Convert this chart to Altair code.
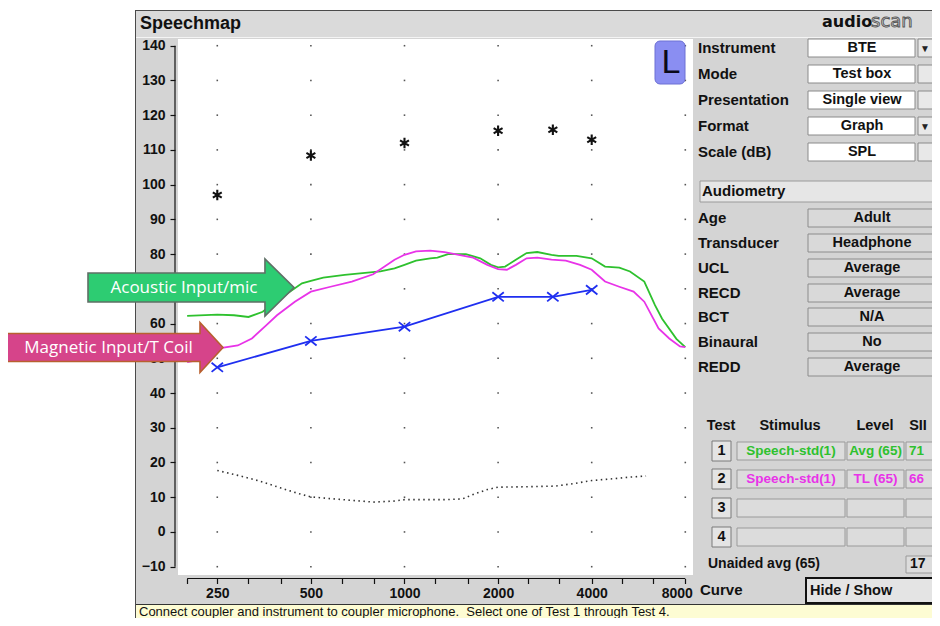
import altair as alt
import pandas as pd

# ---------------- chart values ----------------
OCTAVES = [250, 500, 1000, 2000, 4000, 8000]
THIRD_OCTAVES = [200, 250, 315, 400, 500, 630, 800, 1000, 1250, 1600, 2000,
                 2500, 3150, 4000, 5000, 6300, 8000]
DB_TICKS = [-10, 0, 10, 20, 30, 40, 50, 60, 70, 80, 90, 100, 110, 120, 130, 140]

UCL_HZ = [250, 500, 1000, 2000, 3000, 4000]
UCL_DB = [97.0, 108.4, 112.0, 115.5, 115.8, 112.9]

THR_HZ = [250, 500, 1000, 2000, 3000, 4000]
THR_DB = [47.4, 55.0, 59.1, 67.7, 67.7, 69.7]

ACOUSTIC_HZ = [200, 250, 283, 315, 350, 378, 421, 468, 500, 548, 642, 733, 836, 929,
               1000, 1089, 1210, 1276, 1381, 1576, 1752, 1896, 2000, 2107, 2281, 2470,
               2673, 2971, 3132, 3574, 4000, 4415, 4907, 5312, 5904, 6390, 6737, 7488, 8000]
ACOUSTIC_DB = [62.2, 62.6, 62.4, 61.9, 63.4, 65.8, 68.7, 71.6, 72.3, 73.2, 74.0, 74.5,
               75.0, 75.9, 76.9, 78.1, 78.8, 79.0, 80.0, 80.0, 78.8, 76.9, 76.2, 76.4,
               78.4, 80.3, 80.6, 79.8, 79.5, 79.5, 78.8, 76.4, 76.1, 75.0, 72.1, 65.3,
               61.4, 55.6, 53.2]

MAGNETIC_HZ = [200, 223, 250, 291, 323, 359, 389, 444, 500, 578, 677, 793, 929, 1000,
               1089, 1210, 1345, 1495, 1662, 1847, 2000, 2135, 2281, 2470, 2673, 2971,
               3302, 3670, 4000, 4415, 4907, 5454, 5904, 6562, 7103, 7689, 8000]
MAGNETIC_DB = [48.9, 49.7, 52.8, 53.7, 55.7, 59.5, 62.4, 66.3, 69.2, 70.6, 72.1, 74.2,
               78.4, 79.8, 80.8, 81.0, 80.6, 79.8, 79.0, 76.9, 75.7, 75.5, 76.9, 78.8,
               79.0, 78.4, 78.1, 76.9, 75.5, 72.1, 70.6, 69.2, 66.3, 58.6, 55.7, 53.4, 53.2]

UNAIDED_HZ = [250, 291, 341, 399, 455, 500, 578, 677, 793, 929, 1000, 1148, 1345, 1535,
              1662, 1847, 2000, 2405, 3051, 3481, 4000, 4655, 5312, 5983]
UNAIDED_DB = [17.7, 16.3, 14.7, 12.7, 11.1, 10.1, 9.6, 9.1, 8.6, 8.9, 9.3, 9.3, 9.3, 9.5,
              10.8, 12.2, 12.9, 13.0, 13.2, 13.9, 14.8, 15.3, 15.8, 16.1]

PANEL_LABELS = ["Instrument", "Mode", "Presentation", "Format", "Scale (dB)"]
PANEL_VALUES = ["BTE", "Test box", "Single view", "Graph", "SPL"]
PANEL_DROPDOWN = [True, False, False, True, False]
AUDIO_LABELS = ["Age", "Transducer", "UCL", "RECD", "BCT", "Binaural", "REDD"]
AUDIO_VALUES = ["Adult", "Headphone", "Average", "Average", "N/A", "No", "Average"]
TABLE_HEAD = ["Test", "Stimulus", "Level", "SII"]
TEST_NUM = ["1", "2", "3", "4"]
TEST_STIM = ["Speech-std(1)", "Speech-std(1)", "", ""]
TEST_LEVEL = ["Avg (65)", "TL (65)", "", ""]
TEST_SII = ["71", "66", "", ""]
UNAIDED_LABEL = "Unaided avg (65)"
UNAIDED_SII = "17"
STATUS_TEXT = "Connect coupler and instrument to coupler microphone.\u00a0 Select one of Test 1 through Test 4."

# ---------------- styles / layout ----------------
GREEN = "#2ec12e"
MAGENTA = "#e833e8"
BLUE = "#1f2ff0"
GREY = "#d4d4d4"
INK = "#111111"
FONT = "Liberation Sans"

OX, OY = 178, 39          # page position of the plot area's top-left corner
W, H = 515, 536           # plot area size
RIGHT = 940


def rx(v):
    return v - OX


def ry(v):
    return v - OY


rects = []


def add_rect(x0, y0, x1, y1, fill, stroke=None, sw=0):
    rects.append(dict(x=rx(x0), x2=rx(x1), y=ry(y0), y2=ry(y1), fill=fill,
                      stroke=stroke if stroke else fill, sw=sw))


# page outside the window
add_rect(-20, -20, 135, 660, "white")
add_rect(-20, -20, 960, 10, "white")
# window frame, title bar, status bar
add_rect(135, 10, 960, 11, "#4a4a4a")
add_rect(135, 10, 136, 660, "#4a4a4a")
add_rect(136, 11, 960, 37, "#dadada")
add_rect(136, 37, 960, 38, "#f4f4f4")
add_rect(136, 604, 960, 605, "#333333")
add_rect(136, 605, 960, 660, "#fdfcd3")

PANEL_ROWS = [48, 74, 100, 126, 152]
for c, dd in zip(PANEL_ROWS, PANEL_DROPDOWN):
    add_rect(808, c - 9, 915, c + 9, "white", "#8a8a8a", 1)
    add_rect(918, c - 9, RIGHT, c + 9, "#e8e8e8", "#8a8a8a", 1)

add_rect(700, 181, RIGHT, 202, "#e6e6e6", "#9a9a9a", 1)
AUDIO_ROWS = [218, 243, 268, 293, 317, 342, 367]
for c in AUDIO_ROWS:
    add_rect(808, c - 9, RIGHT, c + 9, "#d9d9d9", "#8c8c8c", 1)

TEST_ROWS = [451, 479, 508, 537]
for c in TEST_ROWS:
    add_rect(712, c - 10, 731, c + 10, "#e4e4e4", "#7a7a7a", 1)
    add_rect(737, c - 9, 845, c + 9, "#dcdcdc", "#9a9a9a", 1)
    add_rect(847, c - 9, 904, c + 9, "#dcdcdc", "#9a9a9a", 1)
    add_rect(906, c - 9, RIGHT, c + 9, "#dcdcdc", "#9a9a9a", 1)
add_rect(906, 556, RIGHT, 573, "#dcdcdc", "#9a9a9a", 1)
add_rect(806, 578, RIGHT, 603, "#e4e4e4", "#111111", 2)

texts_left, texts_center = [], []


def tl(x, y, t, s, c=INK):
    if t:
        texts_left.append(dict(x=rx(x), y=ry(y), t=t, s=s, c=c))


def tc(x, y, t, s, c=INK):
    if t:
        texts_center.append(dict(x=rx(x), y=ry(y), t=t, s=s, c=c))


tl(140, 24, "Speechmap", 18)
for lab, val, c, dd in zip(PANEL_LABELS, PANEL_VALUES, PANEL_ROWS, PANEL_DROPDOWN):
    tl(698, c, lab, 15)
    tc(862, c, val, 14.5)
    if dd:
        tc(925, c + 1, "\u25bc", 10, "#222")
tl(702, 191, "Audiometry", 15)
for lab, val, c in zip(AUDIO_LABELS, AUDIO_VALUES, AUDIO_ROWS):
    tl(698, c, lab, 15)
    tc(872, c, val, 14.5)
for lab, x in zip(TABLE_HEAD, [721, 790, 875, 918]):
    tc(x, 426, lab, 14.5)
row_cols = [GREEN, MAGENTA, INK, INK]
for n, st, lv, sii, c, col in zip(TEST_NUM, TEST_STIM, TEST_LEVEL, TEST_SII, TEST_ROWS, row_cols):
    tc(721.5, c, n, 14.5)
    tc(791, c, st, 13.5, col)
    tc(875.5, c, lv, 13.5, col)
    tl(909, c, sii, 13.5, col)
tl(708, 564, UNAIDED_LABEL, 14)
tl(910, 564, UNAIDED_SII, 14)
tl(700, 590, "Curve", 15)
tl(810, 591, "Hide / Show", 14.5)


def ui_text(rows, align, weight="bold", font=FONT):
    return alt.Chart(pd.DataFrame(rows)).mark_text(
        align=align, baseline="middle", font=font, fontWeight=weight
    ).encode(
        x=alt.X("x:Q", scale=None, axis=None),
        y=alt.Y("y:Q", scale=None, axis=None),
        text="t:N",
        color=alt.Color("c:N", scale=None, legend=None),
        size=alt.Size("s:Q", scale=None, legend=None),
    )


rect_layer = alt.Chart(pd.DataFrame(rects)).mark_rect().encode(
    x=alt.X("x:Q", scale=None, axis=None), x2="x2:Q",
    y=alt.Y("y:Q", scale=None, axis=None), y2="y2:Q",
    fill=alt.Fill("fill:N", scale=None, legend=None),
    stroke=alt.Stroke("stroke:N", scale=None, legend=None),
    strokeWidth=alt.StrokeWidth("sw:Q", scale=None, legend=None),
)

status_layer = ui_text([dict(x=rx(139), y=ry(611.5), t=STATUS_TEXT, s=13, c=INK)], "left", "normal")

# ---------------- data layers ----------------
xscale = alt.Scale(type="log", domain=[186.9, 8469], nice=False)
yscale = alt.Scale(domain=[-12.39, 141.93], nice=False, zero=False)

xaxis = alt.Axis(values=THIRD_OCTAVES, format="d", title=None, domain=False, grid=False,
                 tickSize=5, tickColor=INK, tickWidth=1.2, offset=3.5, labelPadding=2.5,
                 labelOverlap=False, labelFlush=9, labelFlushOffset=7,
                 labelExpr="indexof([250,500,1000,2000,4000,8000], datum.value) >= 0 ? datum.label : ''")
# the 70 label sits fully under the green annotation arrow in the reference
yaxis = alt.Axis(values=DB_TICKS, title=None, domain=False, grid=False, tickSize=5,
                 tickColor=INK, tickWidth=1.2, offset=3, labelPadding=5,
                 labelOverlap=False, labelFlush=False,
                 labelExpr="datum.value == 70 ? '' : datum.label")

X = alt.X("f:Q", scale=xscale, axis=xaxis)
Y = alt.Y("db:Q", scale=yscale, axis=yaxis)

grid_df = pd.DataFrame([dict(f=f, db=d) for f in OCTAVES for d in DB_TICKS])
grid_layer = alt.Chart(grid_df).mark_square(size=2.5, color="#555555", opacity=1).encode(x=X, y=Y)


def curve(hz, db):
    return pd.DataFrame(dict(f=hz, db=db))


unaided_layer = alt.Chart(curve(UNAIDED_HZ, UNAIDED_DB)).mark_line(
    color="#333333", strokeWidth=1.6, strokeDash=[1.5, 3.5]).encode(x=X, y=Y)
acoustic_layer = alt.Chart(curve(ACOUSTIC_HZ, ACOUSTIC_DB)).mark_line(
    color=GREEN, strokeWidth=1.8).encode(x=X, y=Y)
magnetic_layer = alt.Chart(curve(MAGNETIC_HZ, MAGNETIC_DB)).mark_line(
    color=MAGENTA, strokeWidth=1.8).encode(x=X, y=Y)
thr_df = curve(THR_HZ, THR_DB)
thr_line = alt.Chart(thr_df).mark_line(color=BLUE, strokeWidth=1.8).encode(x=X, y=Y)
thr_marks = alt.Chart(thr_df).mark_point(
    shape="M-1,-0.8L1,0.8M-1,0.8L1,-0.8", size=130, color=BLUE, strokeWidth=1.8,
    filled=False, opacity=1).encode(x=X, y=Y)
ucl_layer = alt.Chart(curve(UCL_HZ, UCL_DB)).mark_point(
    shape="M0,-1L0,1M-0.85,-0.5L0.85,0.5M-0.85,0.5L0.85,-0.5", size=110, color="#111111",
    strokeWidth=2.1, filled=False, opacity=1).encode(x=X, y=Y)

# axis lines spanning only the labelled range
xaxis_line = alt.Chart(pd.DataFrame(dict(f=[200], f2=[8000]))).mark_rule(
    color=INK, strokeWidth=1.2).encode(x=X, x2="f2:Q", y=alt.value(H + 3.5))
yaxis_line = alt.Chart(pd.DataFrame(dict(db=[-10], db2=[140]))).mark_rule(
    color=INK, strokeWidth=1.2).encode(y=Y, y2="db2:Q", x=alt.value(-3))

# ---------------- badge, logo, arrows ----------------
one = pd.DataFrame(dict(a=[0]))
badge = alt.Chart(one).mark_rect(
    cornerRadius=5, fill="#8a8ef2", stroke="#6d70d4", strokeWidth=1).encode(
    x=alt.value(rx(655)), x2=alt.value(rx(685)), y=alt.value(ry(41)), y2=alt.value(ry(84)))
badge_text = alt.Chart(one).mark_text(
    text="L", font=FONT, fontSize=34, color="#0a0a1a", baseline="middle", align="center").encode(
    x=alt.value(rx(671)), y=alt.value(ry(63)))

logo_audio = alt.Chart(one).mark_text(
    text="audio", font="DejaVu Sans", fontWeight="bold", fontSize=16, color="#111",
    align="left", baseline="middle").encode(x=alt.value(rx(822)), y=alt.value(ry(22)))
logo_scan = alt.Chart(one).mark_text(
    text="scan", font="DejaVu Sans", fontSize=18, fill="#dcdcdc", stroke="#555555",
    strokeWidth=0.9, align="left", baseline="middle").encode(x=alt.value(rx(871)), y=alt.value(ry(22)))

arrow_green = alt.Chart(one).mark_point(
    shape="M-1,-0.141L0.718,-0.141L0.718,-0.277L1,0L0.718,0.277L0.718,0.141L-1,0.141Z",
    size=206 ** 2, filled=True, fill="#2dcc72", stroke="#5f6f66", strokeWidth=1.6, opacity=1
).encode(x=alt.value(rx(191)), y=alt.value(ry(287.5)))
arrow_magenta = alt.Chart(one).mark_point(
    shape="M-1,-0.1202L0.8026,-0.1202L0.8026,-0.2146L1,0L0.8026,0.2146L0.8026,0.1202L-1,0.1202Z",
    size=233 ** 2, filled=True, fill="#d6448a", stroke="#b8602f", strokeWidth=1.6, opacity=1
).encode(x=alt.value(rx(106.5)), y=alt.value(ry(347.5)))
arrow_text = alt.Chart(pd.DataFrame([
    dict(x=rx(184), y=ry(288), t="Acoustic Input/mic"),
    dict(x=rx(108.5), y=ry(347.5), t="Magnetic Input/T Coil"),
])).mark_text(font="Open Sans", fontSize=17, color="white", align="center", baseline="middle").encode(
    x=alt.X("x:Q", scale=None, axis=None), y=alt.Y("y:Q", scale=None, axis=None), text="t:N")

chart = alt.layer(
    rect_layer,
    grid_layer,
    unaided_layer,
    acoustic_layer,
    magnetic_layer,
    thr_line,
    thr_marks,
    ucl_layer,
    xaxis_line,
    yaxis_line,
    badge,
    badge_text,
    ui_text(texts_left, "left"),
    ui_text(texts_center, "center"),
    status_layer,
    logo_audio,
    logo_scan,
    arrow_green,
    arrow_magenta,
    arrow_text,
).properties(
    width=W, height=H,
    autosize=alt.AutoSizeParams(type="none"),
    padding={"left": OX - 8, "top": OY - 8, "right": 924 - (OX - 8) - W, "bottom": 610 - (OY - 8) - H},
).configure(
    background=GREY,
).configure_view(
    fill="white", stroke=None,
).configure_axis(
    labelFont=FONT, labelFontSize=14, labelFontWeight="bold", labelColor=INK,
)

chart.save("out.html", embed_options={"renderer": "svg", "actions": False})
